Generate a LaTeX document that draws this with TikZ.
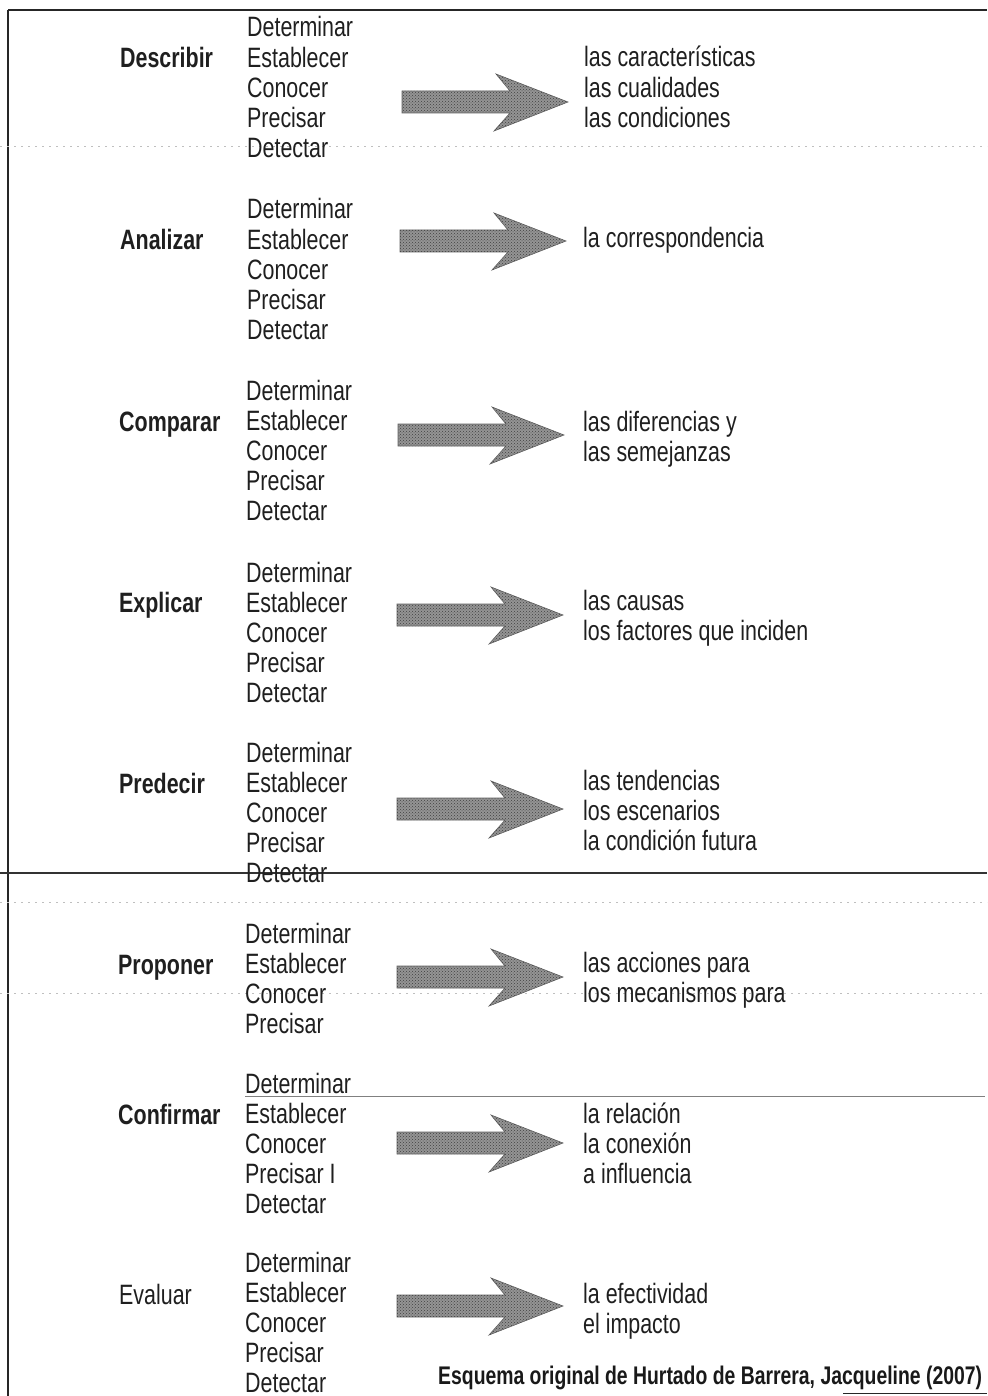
\documentclass[tikz,border=0pt]{standalone}
\usepackage{fontspec}
\usetikzlibrary{patterns}
\setmainfont{Liberation Sans}[FakeStretch=0.765]
\newfontfamily\citefont{Liberation Sans}[FakeStretch=0.76]
\begin{document}
\begin{tikzpicture}[x=1pt,y=-1pt,
  txt/.style={anchor=base west,inner sep=0pt,text=black!88,font=\fontsize{28}{30}\selectfont},
  lab/.style={txt,font=\fontsize{28}{30}\selectfont\bfseries},
  labreg/.style={txt},
  cite/.style={anchor=base west,inner sep=0pt,text=black!90,font=\citefont\fontsize{25.5}{28}\selectfont\bfseries},
  arrowfill/.style={fill=black!42,draw=black!62,line width=0.6pt},
  arrowtex/.style={pattern=crosshatch dots,pattern color=black!75},
  frame/.style={draw=black!85,line width=1.4pt},
  faint/.style={draw=black!25,line width=0.5pt,dash pattern=on 2pt off 5pt}]
\useasboundingbox (0,0) rectangle (987,1396);
\newcommand{\vgroup}[4]{%
  \foreach \w [count=\i from 0] in {#4} {
    \node[txt] (#1-\i) at (#2, #3+10+30.15*\i) {\w};
  }}
\newcommand{\garrow}[2]{%
  \path[arrowfill] (#1,#2) ++(0,-11) -- ++(108,0) -- ++(-14,-17) -- ++(72,28)
    -- ++(-74,29) -- ++(16,-18) -- ++(-108,0) -- cycle;
  \path[arrowtex] (#1,#2) ++(0,-11) -- ++(108,0) -- ++(-14,-17) -- ++(72,28)
    -- ++(-74,29) -- ++(16,-18) -- ++(-108,0) -- cycle;}
% frame lines
\draw[frame] (8,10) -- (987,10);
\draw[frame] (8,10) -- (8,1396);
\draw[draw=black!80,line width=1.1pt] (0,873) -- (987,873);
\draw[faint] (0,146) -- (987,146);
\draw[faint] (0,902) -- (987,902);
\draw[faint] (0,993) -- (987,993);
\draw[draw=black!50,line width=0.7pt] (245,1096) -- (985,1096);
\draw[draw=black!85,line width=0.9pt] (843,1393) -- (987,1393);
% labels
\node[lab] (describir) at (120,68) {Describir};
\node[lab] (analizar) at (120,250) {Analizar};
\node[lab] (comparar) at (119,431) {Comparar};
\node[lab] (explicar) at (119,612) {Explicar};
\node[lab] (predecir) at (119,793) {Predecir};
\node[lab] (proponer) at (118,974) {Proponer};
\node[lab] (confirmar) at (118,1124) {Confirmar};
\node[labreg] (evaluar) at (119,1304) {Evaluar};
% verb columns
\vgroup{va}{247}{27}{Determinar,Establecer,Conocer,Precisar,Detectar}
\vgroup{vb}{247}{209}{Determinar,Establecer,Conocer,Precisar,Detectar}
\vgroup{vc}{246}{390}{Determinar,Establecer,Conocer,Precisar,Detectar}
\vgroup{vd}{246}{572}{Determinar,Establecer,Conocer,Precisar,Detectar}
\vgroup{ve}{246}{752}{Determinar,Establecer,Conocer,Precisar,Detectar}
\vgroup{vf}{245}{933}{Determinar,Establecer,Conocer,Precisar}
\vgroup{vg}{245}{1083}{Determinar,Establecer,Conocer,Precisar I,Detectar}
\vgroup{vh}{245}{1262}{Determinar,Establecer,Conocer,Precisar,Detectar}
% right texts
\vgroup{ra}{584}{57}{las características,las cualidades,las condiciones}
\vgroup{rb}{583}{238}{la correspondencia}
\vgroup{rc}{583}{421}{las diferencias y,las semejanzas}
\vgroup{rd}{583}{600}{las causas,los factores que inciden}
\vgroup{re}{583}{780}{las tendencias,los escenarios,la condición futura}
\vgroup{rf}{583}{962}{las acciones para,los mecanismos para}
\vgroup{rg}{583}{1113}{la relación,la conexión,a influencia}
\vgroup{rh}{583}{1293}{la efectividad,el impacto}
% arrows
\garrow{402}{102}
\garrow{400}{241}
\garrow{398}{435}
\garrow{397}{615}
\garrow{397}{809}
\garrow{397}{977}
\garrow{397}{1143}
\garrow{397}{1306}
% citation
\node[cite] (cita) at (438,1384) {Esquema original de Hurtado de Barrera, Jacqueline (2007)};
\end{tikzpicture}
\end{document}
